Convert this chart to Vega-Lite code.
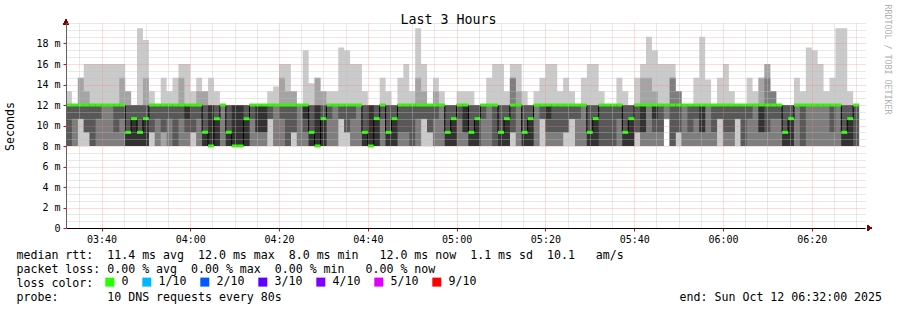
{
"$schema":"https://vega.github.io/schema/vega-lite/v6.json",
"width":799,"height":205,
"autosize":{"type":"none"},
"padding":{"left":66,"top":23,"right":32,"bottom":82},
"background":"#ffffff",
"config":{"view":{"stroke":null},"font":"DejaVu Sans Mono"},
"data":{"values":[
{"t":"2025-10-12T03:32:00","a":8,"b":8,"c":8,"d":8,"e":12,"f":12,"g":12,"h":12,"i":12,"k":13.33,"m":12},
{"t":"2025-10-12T03:33:20","a":8,"b":8,"c":8,"d":10.67,"e":12,"f":12,"g":12,"h":12,"i":12,"k":12,"m":12},
{"t":"2025-10-12T03:34:40","a":8,"b":10.67,"c":10.67,"d":10.67,"e":12,"f":12,"g":12,"h":12,"i":14.67,"k":14.67,"m":12},
{"t":"2025-10-12T03:36:00","a":8,"b":9.33,"c":9.33,"d":9.33,"e":12,"f":12,"g":12,"h":12,"i":13.33,"k":16,"m":12},
{"t":"2025-10-12T03:37:20","a":8,"b":8,"c":8,"d":8,"e":12,"f":12,"g":12,"h":12,"i":12,"k":16,"m":12},
{"t":"2025-10-12T03:38:40","a":8,"b":8,"c":8,"d":10.67,"e":12,"f":12,"g":12,"h":12,"i":12,"k":16,"m":12},
{"t":"2025-10-12T03:40:00","a":8,"b":8,"c":8,"d":12,"e":12,"f":12,"g":12,"h":12,"i":12,"k":16,"m":12},
{"t":"2025-10-12T03:41:20","a":8,"b":8,"c":8,"d":12,"e":12,"f":12,"g":12,"h":12,"i":12,"k":16,"m":12},
{"t":"2025-10-12T03:42:40","a":8,"b":8,"c":8,"d":9.33,"e":12,"f":12,"g":12,"h":12,"i":12,"k":16,"m":12},
{"t":"2025-10-12T03:44:00","a":8,"b":8,"c":8,"d":10.67,"e":12,"f":12,"g":12,"h":12,"i":14.67,"k":16,"m":12},
{"t":"2025-10-12T03:45:20","a":8,"b":8,"c":8,"d":8,"e":8,"f":9.33,"g":12,"h":12,"i":13.33,"k":13.33,"m":9.33},
{"t":"2025-10-12T03:46:40","a":8,"b":8,"c":8,"d":8,"e":8,"f":10.67,"g":12,"h":12,"i":12,"k":12,"m":10.67},
{"t":"2025-10-12T03:48:00","a":8,"b":8,"c":8,"d":8,"e":8,"f":9.33,"g":12,"h":12,"i":12,"k":19.5,"m":9.33},
{"t":"2025-10-12T03:49:20","a":8,"b":8,"c":8,"d":8,"e":8,"f":10.67,"g":12,"h":12,"i":14.67,"k":18.33,"m":10.67},
{"t":"2025-10-12T03:50:40","a":8,"b":9.33,"c":9.33,"d":9.33,"e":12,"f":12,"g":12,"h":12,"i":12,"k":13.33,"m":12},
{"t":"2025-10-12T03:52:00","a":8,"b":8,"c":8,"d":10.67,"e":12,"f":12,"g":12,"h":12,"i":12,"k":12,"m":12},
{"t":"2025-10-12T03:53:20","a":8,"b":8,"c":9.33,"d":9.33,"e":12,"f":12,"g":12,"h":12,"i":12,"k":14.67,"m":12},
{"t":"2025-10-12T03:54:40","a":8,"b":8,"c":8,"d":10.67,"e":12,"f":12,"g":12,"h":12,"i":12,"k":13.33,"m":12},
{"t":"2025-10-12T03:56:00","a":8,"b":8,"c":8,"d":8,"e":12,"f":12,"g":12,"h":12,"i":12,"k":14.67,"m":12},
{"t":"2025-10-12T03:57:20","a":8,"b":8,"c":8,"d":10.67,"e":12,"f":12,"g":12,"h":12,"i":14.67,"k":16,"m":12},
{"t":"2025-10-12T03:58:40","a":8,"b":8,"c":8,"d":9.33,"e":10.67,"f":12,"g":12,"h":12,"i":12,"k":16,"m":12},
{"t":"2025-10-12T04:00:00","a":8,"b":9.33,"c":9.33,"d":9.33,"e":12,"f":12,"g":12,"h":12,"i":12,"k":13.33,"m":12},
{"t":"2025-10-12T04:01:20","a":8,"b":8,"c":8,"d":10.67,"e":12,"f":12,"g":12,"h":12,"i":13.33,"k":14.67,"m":12},
{"t":"2025-10-12T04:02:40","a":8,"b":8,"c":8,"d":8,"e":8,"f":9.33,"g":12,"h":12,"i":13.33,"k":13.33,"m":9.33},
{"t":"2025-10-12T04:04:00","a":8,"b":8,"c":8,"d":8,"e":8,"f":12,"g":12,"h":12,"i":12,"k":14.67,"m":8},
{"t":"2025-10-12T04:05:20","a":8,"b":8,"c":8,"d":8,"e":8,"f":10.67,"g":12,"h":12,"i":12,"k":13.33,"m":10.67},
{"t":"2025-10-12T04:06:40","a":8,"b":8,"c":8,"d":12,"e":12,"f":12,"g":12,"h":12,"i":12,"k":12,"m":12},
{"t":"2025-10-12T04:08:00","a":8,"b":8,"c":8,"d":8,"e":8,"f":9.33,"g":12,"h":12,"i":12,"k":12,"m":9.33},
{"t":"2025-10-12T04:09:20","a":8,"b":8,"c":8,"d":8,"e":8,"f":12,"g":12,"h":12,"i":12,"k":12,"m":8},
{"t":"2025-10-12T04:10:40","a":8,"b":8,"c":8,"d":8,"e":8,"f":12,"g":12,"h":12,"i":12,"k":12,"m":8},
{"t":"2025-10-12T04:12:00","a":8,"b":8,"c":8,"d":8,"e":8,"f":10.67,"g":12,"h":12,"i":12,"k":12,"m":10.67},
{"t":"2025-10-12T04:13:20","a":8,"b":8,"c":8,"d":10.67,"e":12,"f":12,"g":12,"h":12,"i":12,"k":12,"m":12},
{"t":"2025-10-12T04:14:40","a":8,"b":8,"c":8,"d":9.33,"e":9.33,"f":12,"g":12,"h":12,"i":12,"k":12,"m":12},
{"t":"2025-10-12T04:16:00","a":8,"b":8,"c":8,"d":9.33,"e":9.33,"f":12,"g":12,"h":12,"i":12,"k":12,"m":12},
{"t":"2025-10-12T04:17:20","a":8,"b":10.67,"c":10.67,"d":10.67,"e":12,"f":12,"g":12,"h":12,"i":12,"k":13.33,"m":12},
{"t":"2025-10-12T04:18:40","a":8,"b":8,"c":8,"d":12,"e":12,"f":12,"g":12,"h":12,"i":12,"k":13.8,"m":12},
{"t":"2025-10-12T04:20:00","a":8,"b":8,"c":8,"d":10.67,"e":12,"f":12,"g":12,"h":12,"i":14.67,"k":16,"m":12},
{"t":"2025-10-12T04:21:20","a":8,"b":8,"c":8,"d":8,"e":12,"f":12,"g":12,"h":12,"i":13.33,"k":16,"m":12},
{"t":"2025-10-12T04:22:40","a":8,"b":9.33,"c":9.33,"d":9.33,"e":12,"f":12,"g":12,"h":12,"i":13.33,"k":13.33,"m":12},
{"t":"2025-10-12T04:24:00","a":8,"b":8,"c":8,"d":12,"e":12,"f":12,"g":12,"h":12,"i":12,"k":12,"m":12},
{"t":"2025-10-12T04:25:20","a":8,"b":8,"c":8,"d":9.33,"e":10.67,"f":12,"g":12,"h":12,"i":12,"k":17.33,"m":12},
{"t":"2025-10-12T04:26:40","a":8,"b":8,"c":8,"d":8,"e":8,"f":9.33,"g":12,"h":12,"i":12,"k":14.13,"m":9.33},
{"t":"2025-10-12T04:28:00","a":8,"b":8,"c":8,"d":8,"e":8,"f":12,"g":12,"h":12,"i":14.67,"k":14.67,"m":8},
{"t":"2025-10-12T04:29:20","a":8,"b":8,"c":8,"d":8,"e":8,"f":10.67,"g":12,"h":12,"i":13.33,"k":13.33,"m":10.67},
{"t":"2025-10-12T04:30:40","a":8,"b":8,"c":8,"d":10.67,"e":12,"f":12,"g":12,"h":12,"i":12,"k":13.33,"m":12},
{"t":"2025-10-12T04:32:00","a":8,"b":8,"c":8,"d":12,"e":12,"f":12,"g":12,"h":12,"i":12,"k":13.33,"m":12},
{"t":"2025-10-12T04:33:20","a":8,"b":10.67,"c":10.67,"d":10.67,"e":12,"f":12,"g":12,"h":12,"i":12,"k":17.6,"m":12},
{"t":"2025-10-12T04:34:40","a":8,"b":9.33,"c":9.33,"d":9.33,"e":12,"f":12,"g":12,"h":12,"i":12,"k":17.33,"m":12},
{"t":"2025-10-12T04:36:00","a":8,"b":8,"c":8,"d":10.67,"e":12,"f":12,"g":12,"h":12,"i":12,"k":16,"m":12},
{"t":"2025-10-12T04:37:20","a":8,"b":8,"c":8,"d":12,"e":12,"f":12,"g":12,"h":12,"i":12,"k":16,"m":12},
{"t":"2025-10-12T04:38:40","a":8,"b":8,"c":8,"d":8,"e":8,"f":9.33,"g":12,"h":12,"i":12,"k":13.33,"m":9.33},
{"t":"2025-10-12T04:40:00","a":8,"b":8,"c":8,"d":8,"e":8,"f":12,"g":12,"h":12,"i":12,"k":12,"m":8},
{"t":"2025-10-12T04:41:20","a":8,"b":8,"c":8,"d":8,"e":8,"f":10.67,"g":12,"h":12,"i":12,"k":12,"m":10.67},
{"t":"2025-10-12T04:42:40","a":8,"b":8,"c":8,"d":10.67,"e":12,"f":12,"g":12,"h":12,"i":12,"k":14.67,"m":12},
{"t":"2025-10-12T04:44:00","a":8,"b":8,"c":8,"d":8,"e":8,"f":9.33,"g":12,"h":12,"i":12,"k":13.33,"m":9.33},
{"t":"2025-10-12T04:45:20","a":8,"b":8,"c":8,"d":8,"e":8,"f":10.67,"g":12,"h":12,"i":12,"k":12,"m":10.67},
{"t":"2025-10-12T04:46:40","a":8,"b":8,"c":8,"d":9.33,"e":12,"f":12,"g":12,"h":12,"i":12,"k":14.67,"m":12},
{"t":"2025-10-12T04:48:00","a":8,"b":8,"c":8,"d":9.33,"e":12,"f":12,"g":12,"h":12,"i":12,"k":16,"m":12},
{"t":"2025-10-12T04:49:20","a":8,"b":8,"c":8,"d":8,"e":12,"f":12,"g":12,"h":12,"i":12,"k":13.33,"m":12},
{"t":"2025-10-12T04:50:40","a":8,"b":8,"c":8,"d":10.67,"e":12,"f":12,"g":12,"h":12,"i":14.67,"k":19.5,"m":12},
{"t":"2025-10-12T04:52:00","a":8,"b":10.67,"c":10.67,"d":10.67,"e":12,"f":12,"g":12,"h":12,"i":13.33,"k":16,"m":12},
{"t":"2025-10-12T04:53:20","a":8,"b":9.33,"c":9.33,"d":9.33,"e":12,"f":12,"g":12,"h":12,"i":12,"k":12,"m":12},
{"t":"2025-10-12T04:54:40","a":8,"b":8,"c":8,"d":10.67,"e":12,"f":12,"g":12,"h":12,"i":13.33,"k":14.67,"m":12},
{"t":"2025-10-12T04:56:00","a":8,"b":8,"c":8,"d":12,"e":12,"f":12,"g":12,"h":12,"i":12,"k":13.33,"m":12},
{"t":"2025-10-12T04:57:20","a":8,"b":8,"c":8,"d":8,"e":8,"f":9.33,"g":12,"h":12,"i":12,"k":12,"m":9.33},
{"t":"2025-10-12T04:58:40","a":8,"b":8,"c":8,"d":8,"e":8,"f":10.67,"g":12,"h":12,"i":12,"k":12,"m":10.67},
{"t":"2025-10-12T05:00:00","a":8,"b":8,"c":8,"d":10.67,"e":12,"f":12,"g":12,"h":12,"i":12,"k":13.33,"m":12},
{"t":"2025-10-12T05:01:20","a":8,"b":8,"c":8,"d":9.33,"e":9.33,"f":12,"g":12,"h":12,"i":12,"k":13.33,"m":12},
{"t":"2025-10-12T05:02:40","a":8,"b":8,"c":8,"d":8,"e":8,"f":9.33,"g":12,"h":12,"i":12,"k":13.33,"m":9.33},
{"t":"2025-10-12T05:04:00","a":8,"b":8,"c":8,"d":8,"e":8,"f":10.67,"g":12,"h":12,"i":12,"k":12,"m":10.67},
{"t":"2025-10-12T05:05:20","a":8,"b":8,"c":8,"d":10.67,"e":12,"f":12,"g":12,"h":12,"i":12,"k":12,"m":12},
{"t":"2025-10-12T05:06:40","a":8,"b":8,"c":8,"d":12,"e":12,"f":12,"g":12,"h":12,"i":12,"k":14.67,"m":12},
{"t":"2025-10-12T05:08:00","a":8,"b":8,"c":8,"d":8,"e":12,"f":12,"g":12,"h":12,"i":12,"k":16,"m":12},
{"t":"2025-10-12T05:09:20","a":8,"b":8,"c":8,"d":8,"e":8,"f":9.33,"g":12,"h":12,"i":12,"k":16,"m":9.33},
{"t":"2025-10-12T05:10:40","a":8,"b":8,"c":8,"d":8,"e":8,"f":10.67,"g":12,"h":12,"i":12,"k":13.33,"m":10.67},
{"t":"2025-10-12T05:12:00","a":8,"b":9.33,"c":9.33,"d":9.33,"e":12,"f":12,"g":12,"h":14.67,"i":14.67,"k":16,"m":12},
{"t":"2025-10-12T05:13:20","a":8,"b":8,"c":8,"d":12,"e":12,"f":12,"g":12,"h":12,"i":13.33,"k":16,"m":12},
{"t":"2025-10-12T05:14:40","a":8,"b":8,"c":8,"d":8,"e":8,"f":9.33,"g":12,"h":12,"i":12,"k":13.33,"m":9.33},
{"t":"2025-10-12T05:16:00","a":8,"b":8,"c":8,"d":8,"e":8,"f":10.67,"g":12,"h":12,"i":12,"k":12,"m":10.67},
{"t":"2025-10-12T05:17:20","a":8,"b":8,"c":8,"d":12,"e":12,"f":12,"g":12,"h":12,"i":12,"k":13.33,"m":12},
{"t":"2025-10-12T05:18:40","a":8,"b":10.67,"c":10.67,"d":10.67,"e":12,"f":12,"g":12,"h":12,"i":12,"k":14.67,"m":12},
{"t":"2025-10-12T05:20:00","a":8,"b":8,"c":8,"d":9.33,"e":10.67,"f":12,"g":12,"h":12,"i":12,"k":16,"m":12},
{"t":"2025-10-12T05:21:20","a":8,"b":8,"c":8,"d":9.33,"e":12,"f":12,"g":12,"h":12,"i":12,"k":16,"m":12},
{"t":"2025-10-12T05:22:40","a":8,"b":8,"c":8,"d":9.33,"e":12,"f":12,"g":12,"h":12,"i":12,"k":13.33,"m":12},
{"t":"2025-10-12T05:24:00","a":8,"b":9.33,"c":9.33,"d":9.33,"e":12,"f":12,"g":12,"h":12,"i":12,"k":14.67,"m":12},
{"t":"2025-10-12T05:25:20","a":8,"b":10.67,"c":10.67,"d":10.67,"e":12,"f":12,"g":12,"h":12,"i":12,"k":13.33,"m":12},
{"t":"2025-10-12T05:26:40","a":8,"b":8,"c":8,"d":10.67,"e":12,"f":12,"g":12,"h":12,"i":12,"k":12,"m":12},
{"t":"2025-10-12T05:28:00","a":8,"b":8,"c":8,"d":12,"e":12,"f":12,"g":12,"h":12,"i":12,"k":14.67,"m":12},
{"t":"2025-10-12T05:29:20","a":8,"b":8,"c":8,"d":8,"e":8,"f":9.33,"g":12,"h":12,"i":12,"k":16,"m":9.33},
{"t":"2025-10-12T05:30:40","a":8,"b":8,"c":8,"d":8,"e":8,"f":10.67,"g":12,"h":12,"i":12,"k":16,"m":10.67},
{"t":"2025-10-12T05:32:00","a":8,"b":8,"c":8,"d":8,"e":12,"f":12,"g":12,"h":12,"i":12,"k":13.33,"m":12},
{"t":"2025-10-12T05:33:20","a":8,"b":8,"c":8,"d":8,"e":12,"f":12,"g":12,"h":12,"i":12,"k":12,"m":12},
{"t":"2025-10-12T05:34:40","a":8,"b":8,"c":8,"d":8,"e":12,"f":12,"g":12,"h":12,"i":12,"k":12,"m":12},
{"t":"2025-10-12T05:36:00","a":8,"b":8,"c":8,"d":10.67,"e":12,"f":12,"g":12,"h":12,"i":12,"k":14.67,"m":12},
{"t":"2025-10-12T05:37:20","a":8,"b":8,"c":8,"d":8,"e":8,"f":9.33,"g":12,"h":12,"i":12,"k":13.33,"m":9.33},
{"t":"2025-10-12T05:38:40","a":8,"b":8,"c":8,"d":8,"e":8,"f":10.67,"g":12,"h":12,"i":12,"k":12,"m":10.67},
{"t":"2025-10-12T05:40:00","a":8,"b":9.33,"c":9.33,"d":9.33,"e":12,"f":12,"g":12,"h":12,"i":12,"k":14.67,"m":12},
{"t":"2025-10-12T05:41:20","a":8,"b":8,"c":8,"d":9.33,"e":9.33,"f":12,"g":12,"h":12,"i":14.67,"k":16,"m":12},
{"t":"2025-10-12T05:42:40","a":8,"b":8,"c":8,"d":12,"e":12,"f":12,"g":12,"h":12,"i":14.67,"k":18.67,"m":12},
{"t":"2025-10-12T05:44:00","a":8,"b":8,"c":8,"d":9.33,"e":10.67,"f":12,"g":12,"h":12,"i":13.33,"k":17.33,"m":12},
{"t":"2025-10-12T05:45:20","a":8,"b":8,"c":8,"d":9.33,"e":12,"f":12,"g":12,"h":12,"i":12,"k":16,"m":12},
{"t":"2025-10-12T05:46:40","a":10.67,"b":10.67,"c":10.67,"d":12,"e":12,"f":12,"g":12,"h":12,"i":12,"k":16,"m":12},
{"t":"2025-10-12T05:48:00","a":8,"b":8,"c":8,"d":8,"e":12,"f":12,"g":12,"h":14.67,"i":14.67,"k":16,"m":12},
{"t":"2025-10-12T05:49:20","a":8,"b":9.33,"c":9.33,"d":9.33,"e":12,"f":12,"g":12,"h":13.33,"i":13.33,"k":13.33,"m":12},
{"t":"2025-10-12T05:50:40","a":8,"b":8,"c":8,"d":12,"e":12,"f":12,"g":12,"h":12,"i":12,"k":12,"m":12},
{"t":"2025-10-12T05:52:00","a":8,"b":8,"c":8,"d":9.33,"e":12,"f":12,"g":12,"h":12,"i":12,"k":12,"m":12},
{"t":"2025-10-12T05:53:20","a":8,"b":8,"c":8,"d":10.67,"e":12,"f":12,"g":12,"h":12,"i":12,"k":14.67,"m":12},
{"t":"2025-10-12T05:54:40","a":8,"b":8,"c":8,"d":9.33,"e":9.33,"f":12,"g":12,"h":12,"i":12,"k":18.67,"m":12},
{"t":"2025-10-12T05:56:00","a":8,"b":8,"c":8,"d":12,"e":12,"f":12,"g":12,"h":12,"i":12,"k":14.5,"m":12},
{"t":"2025-10-12T05:57:20","a":8,"b":8,"c":8,"d":9.33,"e":12,"f":12,"g":12,"h":12,"i":12,"k":12,"m":12},
{"t":"2025-10-12T05:58:40","a":8,"b":10.67,"c":10.67,"d":10.67,"e":12,"f":12,"g":12,"h":12,"i":12,"k":14.67,"m":12},
{"t":"2025-10-12T06:00:00","a":8,"b":8,"c":8,"d":9.33,"e":12,"f":12,"g":12,"h":12,"i":12,"k":16,"m":12},
{"t":"2025-10-12T06:01:20","a":8,"b":8,"c":8,"d":9.33,"e":12,"f":12,"g":12,"h":12,"i":12,"k":13.33,"m":12},
{"t":"2025-10-12T06:02:40","a":8,"b":10.67,"c":10.67,"d":10.67,"e":12,"f":12,"g":12,"h":12,"i":12,"k":12,"m":12},
{"t":"2025-10-12T06:04:00","a":8,"b":8,"c":8,"d":8,"e":12,"f":12,"g":12,"h":12,"i":12,"k":12,"m":12},
{"t":"2025-10-12T06:05:20","a":8,"b":8,"c":8,"d":10.67,"e":12,"f":12,"g":12,"h":12,"i":12,"k":14.67,"m":12},
{"t":"2025-10-12T06:06:40","a":8,"b":8,"c":8,"d":12,"e":12,"f":12,"g":12,"h":12,"i":12,"k":13.33,"m":12},
{"t":"2025-10-12T06:08:00","a":8,"b":8,"c":8,"d":9.33,"e":9.33,"f":12,"g":12,"h":12,"i":14.67,"k":14.67,"m":12},
{"t":"2025-10-12T06:09:20","a":8,"b":8,"c":8,"d":9.33,"e":12,"f":12,"g":12,"h":14.67,"i":16,"k":16,"m":12},
{"t":"2025-10-12T06:10:40","a":8,"b":8,"c":8,"d":10.67,"e":12,"f":12,"g":12,"h":13.33,"i":13.33,"k":13.33,"m":12},
{"t":"2025-10-12T06:12:00","a":8,"b":8,"c":8,"d":10.67,"e":12,"f":12,"g":12,"h":12,"i":12,"k":12,"m":12},
{"t":"2025-10-12T06:13:20","a":8,"b":8,"c":8,"d":8,"e":8,"f":9.33,"g":12,"h":12,"i":12,"k":12,"m":9.33},
{"t":"2025-10-12T06:14:40","a":8,"b":8,"c":8,"d":8,"e":8,"f":10.67,"g":12,"h":12,"i":12,"k":12,"m":10.67},
{"t":"2025-10-12T06:16:00","a":8,"b":8,"c":8,"d":12,"e":12,"f":12,"g":12,"h":12,"i":12,"k":14.67,"m":12},
{"t":"2025-10-12T06:17:20","a":8,"b":8,"c":8,"d":8,"e":12,"f":12,"g":12,"h":12,"i":12,"k":13.33,"m":12},
{"t":"2025-10-12T06:18:40","a":8,"b":8,"c":8,"d":12,"e":12,"f":12,"g":12,"h":12,"i":12,"k":17.6,"m":12},
{"t":"2025-10-12T06:20:00","a":8,"b":8,"c":8,"d":12,"e":12,"f":12,"g":12,"h":12,"i":12,"k":17.33,"m":12},
{"t":"2025-10-12T06:21:20","a":8,"b":8,"c":8,"d":12,"e":12,"f":12,"g":12,"h":12,"i":12,"k":16,"m":12},
{"t":"2025-10-12T06:22:40","a":8,"b":8,"c":8,"d":12,"e":12,"f":12,"g":12,"h":12,"i":12,"k":13.33,"m":12},
{"t":"2025-10-12T06:24:00","a":8,"b":8,"c":8,"d":9.33,"e":12,"f":12,"g":12,"h":12,"i":12,"k":14.67,"m":12},
{"t":"2025-10-12T06:25:20","a":8,"b":8,"c":8,"d":12,"e":12,"f":12,"g":12,"h":12,"i":12,"k":19.5,"m":12},
{"t":"2025-10-12T06:26:40","a":8,"b":8,"c":8,"d":8,"e":8,"f":9.33,"g":12,"h":12,"i":12,"k":19.5,"m":9.33},
{"t":"2025-10-12T06:28:00","a":8,"b":8,"c":8,"d":8,"e":8,"f":10.67,"g":12,"h":12,"i":12,"k":13.33,"m":10.67},
{"t":"2025-10-12T06:29:20","a":8,"b":8,"c":8,"d":8,"e":12,"f":12,"g":12,"h":12,"i":12,"k":12,"m":12},
{"t":"2025-10-12T06:30:40","a":8,"b":8,"c":8,"d":8,"e":12,"f":12,"g":12,"h":12,"i":12,"k":12}
]},
"encoding":{"x":{"field":"t","type":"temporal","scale":{"domain":[{"year":2025,"month":10,"date":12,"hours":3,"minutes":32},{"year":2025,"month":10,"date":12,"hours":6,"minutes":32}],"nice":false},"axis":null}},
"layer":[
{"mark":{"type":"area","interpolate":"step-after","color":"#cacaca"},
 "encoding":{
  "x":{"field":"t","type":"temporal","scale":{"domain":[{"year":2025,"month":10,"date":12,"hours":3,"minutes":32},{"year":2025,"month":10,"date":12,"hours":6,"minutes":32}],"nice":false},
   "axis":{"values":[{"year":2025,"month":10,"date":12,"hours":3,"minutes":40},{"year":2025,"month":10,"date":12,"hours":4,"minutes":0},{"year":2025,"month":10,"date":12,"hours":4,"minutes":20},{"year":2025,"month":10,"date":12,"hours":4,"minutes":40},{"year":2025,"month":10,"date":12,"hours":5,"minutes":0},{"year":2025,"month":10,"date":12,"hours":5,"minutes":20},{"year":2025,"month":10,"date":12,"hours":5,"minutes":40},{"year":2025,"month":10,"date":12,"hours":6,"minutes":0},{"year":2025,"month":10,"date":12,"hours":6,"minutes":20}],
    "format":"%H:%M","labelFont":"DejaVu Sans Mono","labelFontSize":10,"labelColor":"#000000","labelPadding":3,"labelFlush":false,"labelOverlap":false,
    "tickColor":"#ff0000","tickSize":3,"domainColor":"#000000","domainWidth":1,
    "grid":true,"gridColor":"#ff8080","gridOpacity":0.55,"gridDash":[1,1],"zindex":1,
    "title":["median rtt:\u00a0\u00a011.4 ms avg\u00a0\u00a012.0 ms max\u00a0\u00a08.0 ms min\u00a0\u00a0\u00a012.0 ms now\u00a0\u00a01.1 ms sd\u00a0\u00a010.1\u00a0\u00a0\u00a0am/s","packet loss: 0.00 % avg\u00a0\u00a00.00 % max\u00a0\u00a00.00 % min\u00a0\u00a0\u00a00.00 % now","loss color:","probe:\u00a0\u00a0\u00a0\u00a0\u00a0\u00a0\u00a010 DNS requests every 80s\u00a0\u00a0\u00a0\u00a0\u00a0\u00a0\u00a0\u00a0\u00a0\u00a0\u00a0\u00a0\u00a0\u00a0\u00a0\u00a0\u00a0\u00a0\u00a0\u00a0\u00a0\u00a0\u00a0\u00a0\u00a0\u00a0\u00a0\u00a0\u00a0\u00a0\u00a0\u00a0\u00a0\u00a0\u00a0\u00a0\u00a0\u00a0\u00a0\u00a0\u00a0\u00a0\u00a0\u00a0\u00a0\u00a0\u00a0\u00a0\u00a0\u00a0\u00a0\u00a0\u00a0\u00a0\u00a0\u00a0\u00a0end: Sun Oct 12 06:32:00 2025"],
    "titleFont":"DejaVu Sans Mono","titleFontSize":11.6,"titleFontWeight":"normal","titleColor":"#000000","titleAlign":"left","titleAnchor":"start","titleBaseline":"alphabetic","titleX":-50,"titleY":30,"titleLineHeight":14}},
  "y":{"field":"a","type":"quantitative","scale":{"domain":[0,20],"nice":false},
   "axis":{"values":[0,2,4,6,8,10,12,14,16,18],"labelExpr":"datum.value == 0 ? '0\u00a0\u00a0' : datum.value + '\u00a0m'",
    "labelFont":"DejaVu Sans Mono","labelFontSize":10,"labelColor":"#000000","labelPadding":3,"labelAlign":"right","labelBaseline":"middle",
    "tickSize":3,"tickColor":"#ff0000","domainColor":"#606060","domainWidth":1,
    "grid":true,"gridColor":"#ff8080","gridOpacity":0.55,"gridDash":[1,1],"zindex":1,
    "title":"Seconds","titleFont":"DejaVu Sans Mono","titleFontSize":11.6,"titleFontWeight":"normal","titleColor":"#000000","titleAngle":270,"titleX":-56,"titleY":103,"titleAlign":"center","titleBaseline":"middle"}},
  "y2":{"field":"k"}}},
{"mark":{"type":"area","interpolate":"step-after","color":"#a4a4a4"},
 "encoding":{
  "x":{"field":"t","type":"temporal","scale":{"domain":[{"year":2025,"month":10,"date":12,"hours":3,"minutes":32},{"year":2025,"month":10,"date":12,"hours":6,"minutes":32}],"nice":false},
   "axis":{"orient":"top","values":[{"year":2025,"month":10,"date":12,"hours":3,"minutes":35},{"year":2025,"month":10,"date":12,"hours":3,"minutes":45},{"year":2025,"month":10,"date":12,"hours":3,"minutes":50},{"year":2025,"month":10,"date":12,"hours":3,"minutes":55},{"year":2025,"month":10,"date":12,"hours":4,"minutes":5},{"year":2025,"month":10,"date":12,"hours":4,"minutes":10},{"year":2025,"month":10,"date":12,"hours":4,"minutes":15},{"year":2025,"month":10,"date":12,"hours":4,"minutes":25},{"year":2025,"month":10,"date":12,"hours":4,"minutes":30},{"year":2025,"month":10,"date":12,"hours":4,"minutes":35},{"year":2025,"month":10,"date":12,"hours":4,"minutes":45},{"year":2025,"month":10,"date":12,"hours":4,"minutes":50},{"year":2025,"month":10,"date":12,"hours":4,"minutes":55},{"year":2025,"month":10,"date":12,"hours":5,"minutes":5},{"year":2025,"month":10,"date":12,"hours":5,"minutes":10},{"year":2025,"month":10,"date":12,"hours":5,"minutes":15},{"year":2025,"month":10,"date":12,"hours":5,"minutes":25},{"year":2025,"month":10,"date":12,"hours":5,"minutes":30},{"year":2025,"month":10,"date":12,"hours":5,"minutes":35},{"year":2025,"month":10,"date":12,"hours":5,"minutes":45},{"year":2025,"month":10,"date":12,"hours":5,"minutes":50},{"year":2025,"month":10,"date":12,"hours":5,"minutes":55},{"year":2025,"month":10,"date":12,"hours":6,"minutes":5},{"year":2025,"month":10,"date":12,"hours":6,"minutes":10},{"year":2025,"month":10,"date":12,"hours":6,"minutes":15},{"year":2025,"month":10,"date":12,"hours":6,"minutes":25},{"year":2025,"month":10,"date":12,"hours":6,"minutes":30}],
    "labels":false,"ticks":false,"domain":false,"grid":true,"gridColor":"#c0c0c0","gridOpacity":0.7,"gridDash":[1,1],"zindex":1,
    "title":"Last 3 Hours","titleFont":"DejaVu Sans Mono","titleFontSize":13.3,"titleFontWeight":"normal","titleColor":"#000000","titleX":382,"titleY":0,"titleAlign":"center","titleBaseline":"alphabetic","titleAnchor":"start"}},
  "y":{"field":"b","type":"quantitative","scale":{"domain":[0,20],"nice":false},
   "axis":{"orient":"right","values":[0.667,1.333,2.667,3.333,4.667,5.333,6.667,7.333,8.667,9.333,10.667,11.333,12.667,13.333,14.667,15.333,16.667,17.333,18.667,19.333,20],
    "labels":false,"ticks":false,"domain":false,"grid":true,"gridColor":"#c0c0c0","gridOpacity":0.7,"gridDash":[1,1],"zindex":1,
    "title":"RRDTOOL / TOBI OETIKER","titleFont":"DejaVu Sans Mono","titleFontSize":8.3,"titleFontWeight":"normal","titleColor":"#b0b0b0","titleAngle":90,"titleX":21,"titleY":-19,"titleAlign":"left","titleBaseline":"middle"}},
  "y2":{"field":"i"}}},
{"mark":{"type":"area","interpolate":"step-after","color":"#7e7e7e"},
 "encoding":{"y":{"field":"c","type":"quantitative","scale":{"domain":[0,20],"nice":false},"axis":null},"y2":{"field":"h"}}},
{"mark":{"type":"area","interpolate":"step-after","color":"#585858"},
 "encoding":{"y":{"field":"d","type":"quantitative","scale":{"domain":[0,20],"nice":false},"axis":null},"y2":{"field":"g"}}},
{"mark":{"type":"area","interpolate":"step-after","color":"#323232"},
 "encoding":{"y":{"field":"e","type":"quantitative","scale":{"domain":[0,20],"nice":false},"axis":null},"y2":{"field":"f"}}},
{"mark":{"type":"line","interpolate":"step-after","color":"#000000","strokeWidth":1},
 "encoding":{"y":{"field":"m","type":"quantitative","scale":{"domain":[0,20],"nice":false},"axis":null}}},
{"mark":{"type":"tick","orient":"horizontal","thickness":3,"size":5.93,"xOffset":2.96,"opacity":1},
 "encoding":{"y":{"field":"m","type":"quantitative","scale":{"domain":[0,20],"nice":false},"axis":null},
  "color":{"datum":"0","type":"nominal","scale":{"domain":["0","1/10","2/10","3/10","4/10","5/10","9/10"],"range":["#26ff00","#00b8ff","#0059ff","#5e00ff","#7e00ff","#dd00ff","#ff0000"]},
   "legend":{"orient":"none","legendX":38,"legendY":253,"direction":"horizontal","columns":7,"title":null,
    "labelFont":"DejaVu Sans Mono","labelFontSize":11.6,"labelColor":"#000000","labelOffset":6,"columnPadding":12,"symbolType":"square","symbolSize":81,"padding":0,
    "encode":{"symbols":{"update":{"stroke":{"value":"#000000"},"strokeWidth":{"value":1},"opacity":{"value":1}}}}}}}},
{"mark":{"type":"point","shape":"triangle-up","filled":true,"color":"#800000","size":30,"opacity":1,"yOffset":-1},
 "encoding":{"x":{"datum":{"year":2025,"month":10,"date":12,"hours":3,"minutes":32},"type":"temporal","scale":{"domain":[{"year":2025,"month":10,"date":12,"hours":3,"minutes":32},{"year":2025,"month":10,"date":12,"hours":6,"minutes":32}],"nice":false},"axis":null},
  "y":{"datum":20,"type":"quantitative","scale":{"domain":[0,20],"nice":false},"axis":null}}},
{"mark":{"type":"point","shape":"triangle-right","filled":true,"color":"#800000","size":30,"opacity":1},
 "encoding":{"x":{"datum":{"year":2025,"month":10,"date":12,"hours":6,"minutes":33},"type":"temporal","scale":{"domain":[{"year":2025,"month":10,"date":12,"hours":3,"minutes":32},{"year":2025,"month":10,"date":12,"hours":6,"minutes":32}],"nice":false},"axis":null},
  "y":{"datum":0,"type":"quantitative","scale":{"domain":[0,20],"nice":false},"axis":null}}}
],
"resolve":{"axis":{"x":"independent","y":"independent"}}
}
